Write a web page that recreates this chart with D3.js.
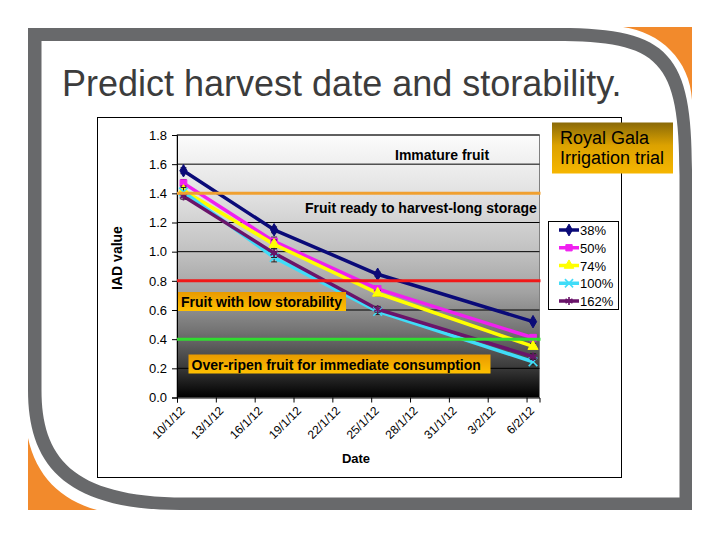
<!DOCTYPE html>
<html>
<head>
<meta charset="utf-8">
<script src="https://cdn.jsdelivr.net/npm/d3@7/dist/d3.min.js"></script>
<style>
  html, body { margin: 0; padding: 0; background: #ffffff; }
  svg { display: block; }
  text { font-family: "Liberation Sans", Arial, sans-serif; }
</style>
</head>
<body>
<svg id="chart" width="720" height="540"></svg>
<script>
// ---------------- data ----------------
const seriesNames = ["38%", "50%", "74%", "100%", "162%"];
const sampleDates = ["2012-01-10", "2012-01-17", "2012-01-25", "2012-02-06"];
const iad38  = [1.555, 1.150, 0.845, 0.520];
const iad50  = [1.470, 1.070, 0.745, 0.410];
const iad74  = [1.420, 1.050, 0.715, 0.350];
const iad100 = [1.410, 0.960, 0.590, 0.245];
const iad162 = [1.380, 0.990, 0.605, 0.280];
const err38  = [0.020, 0.020, 0.015, 0.010];
const err50  = [0.025, 0.030, 0.020, 0.015];
const err74  = [0.030, 0.030, 0.020, 0.020];
const err100 = [0.030, 0.030, 0.020, 0.020];
const err162 = [0.020, 0.030, 0.020, 0.020];
const yTickValues = [0, 0.2, 0.4, 0.6, 0.8, 1.0, 1.2, 1.4, 1.6, 1.8];
const xTickLabels = ["10/1/12", "13/1/12", "16/1/12", "19/1/12", "22/1/12",
                     "25/1/12", "28/1/12", "31/1/12", "3/2/12", "6/2/12"];
const thresholdValues = [1.4, 0.8, 0.4];
const zoneLabels = ["Immature fruit", "Fruit ready to harvest-long storage",
                    "Fruit with low storability", "Over-ripen fruit for immediate consumption"];
const titleText = "Predict harvest date and storability.";
const trialLines = ["Royal Gala", "Irrigation trial"];

// ---------------- styles ----------------
const seriesColors = ["#0a0a78", "#f020f0", "#ffff00", "#40dcf8", "#6a146a"];
const seriesSymbols = ["diamond", "square", "triangle", "times", "asterisk"];
const thresholdColors = ["#f0a030", "#f01818", "#30dc30"];

const svg = d3.select("#chart");
const defs = svg.append("defs");

// ---------------- frame ----------------
svg.append("path")
  .attr("d", "M623,27 L692,27 L692,100 C690,60 660,32 623,27 Z")
  .attr("fill", "#f28a2c");
svg.append("path")
  .attr("d", "M28,438 L28,510 L97,510 C60,500 36,475 28,438 Z")
  .attr("fill", "#f28a2c");
svg.append("path")
  .attr("fill", "#68696b")
  .attr("fill-rule", "evenodd")
  .attr("d",
    "M28,28 L560,28 C670,28 692,55 692,170 L692,510 L180,510 C60,510 28,460 28,390 Z " +
    "M41.5,41 L555,41 C660,41 679.5,60 679.5,175 L679.5,497.5 L185,497.5 C70,497.5 41.5,455 41.5,390 Z");

svg.append("text")
  .attr("x", 62).attr("y", 96)
  .attr("font-size", 36)
  .attr("fill", "#3c3c3c")
  .text(titleText);

// chart box
svg.append("rect")
  .attr("x", 97.5).attr("y", 117.5).attr("width", 524).attr("height", 360)
  .attr("fill", "#ffffff").attr("stroke", "#000").attr("stroke-width", 1);

// ---------------- scales ----------------
const parse = d3.timeParse("%Y-%m-%d");
const plot = { left: 177, right: 539.5, top: 135, bottom: 397.5 };
const x = d3.scaleTime()
  .domain([new Date(2012, 0, 10), new Date(2012, 1, 7)])
  .range([plot.left, plot.right]);
const y = d3.scaleLinear().domain([0, 1.8]).range([plot.bottom, plot.top]);

// plot background gradient
const grad = defs.append("linearGradient").attr("id", "plotbg")
  .attr("x1", 0).attr("y1", 0).attr("x2", 0).attr("y2", 1);
[[0, "#fcfcfc"], [0.25, "#dedede"], [0.45, "#c0c0c0"], [0.6, "#a2a2a2"],
 [0.75, "#727272"], [0.88, "#3c3c3c"], [1, "#000000"]]
  .forEach(s => grad.append("stop").attr("offset", s[0]).attr("stop-color", s[1]));

const boxGrad = defs.append("linearGradient").attr("id", "boxbg")
  .attr("x1", 0).attr("y1", 0).attr("x2", 0).attr("y2", 1);
[[0, "#e89a00"], [1, "#ffc000"]]
  .forEach(s => boxGrad.append("stop").attr("offset", s[0]).attr("stop-color", s[1]));

const trialGrad = defs.append("linearGradient").attr("id", "trialbg")
  .attr("x1", 0).attr("y1", 0).attr("x2", 0).attr("y2", 1);
[[0, "#8a6a08"], [0.45, "#dca200"], [1, "#f6b600"]]
  .forEach(s => trialGrad.append("stop").attr("offset", s[0]).attr("stop-color", s[1]));

svg.append("rect")
  .attr("x", plot.left).attr("y", plot.top)
  .attr("width", plot.right - plot.left).attr("height", plot.bottom - plot.top)
  .attr("fill", "url(#plotbg)").attr("stroke", "#808080").attr("stroke-width", 1);

// gridlines
svg.append("g").selectAll("line")
  .data(yTickValues.filter(v => v > 0))
  .join("line")
  .attr("x1", plot.left).attr("x2", plot.right)
  .attr("y1", d => y(d)).attr("y2", d => y(d))
  .attr("stroke", "#000").attr("stroke-width", 1);

// axes
const tickDates = xTickLabels.map((_, i) => d3.timeDay.offset(new Date(2012, 0, 10), 3 * i));
const xAxis = svg.append("g")
  .attr("transform", `translate(0,${plot.bottom})`)
  .call(d3.axisBottom(x).tickValues(tickDates).tickSize(5)
    .tickFormat((d, i) => xTickLabels[i]));
xAxis.select(".domain").attr("stroke", "#000");
xAxis.selectAll("text")
  .attr("font-size", 12)
  .attr("font-family", "Liberation Sans, Arial, sans-serif")
  .attr("fill", "#000")
  .attr("text-anchor", "end")
  .attr("dy", null).attr("y", null)
  .attr("transform", "translate(8,14) rotate(-45)");

const yAxis = svg.append("g")
  .attr("transform", `translate(${plot.left},0)`)
  .call(d3.axisLeft(y).tickValues(yTickValues).tickSize(5).tickFormat(d3.format(".1f")));
yAxis.select(".domain").attr("stroke", "#000");
yAxis.selectAll("text")
  .attr("font-size", 13)
  .attr("font-family", "Liberation Sans, Arial, sans-serif")
  .attr("fill", "#000")
  .attr("x", -10);

svg.append("text")
  .attr("transform", "translate(122,258) rotate(-90)")
  .attr("text-anchor", "middle")
  .attr("font-size", 14).attr("font-weight", "bold")
  .text("IAD value");
svg.append("text")
  .attr("x", 356).attr("y", 463)
  .attr("text-anchor", "middle")
  .attr("font-size", 13).attr("font-weight", "bold")
  .text("Date");

// ---------------- series ----------------
const allValues = [iad38, iad50, iad74, iad100, iad162];
const allErrors = [err38, err50, err74, err100, err162];
const series = seriesNames.map((name, k) => ({
  name,
  color: seriesColors[k],
  symbol: seriesSymbols[k],
  points: sampleDates.map((ds, i) => ({
    date: d3.timeHour.offset(parse(ds), 12),
    v: allValues[k][i],
    e: allErrors[k][i]
  }))
}));

function symbolPath(kind, size) {
  const map = {
    diamond: d3.symbolDiamond,
    square: d3.symbolSquare,
    triangle: d3.symbolTriangle,
    times: d3.symbolTimes || d3.symbolCross,
    asterisk: d3.symbolAsterisk || d3.symbolCross
  };
  return d3.symbol().type(map[kind]).size(size)();
}
const strokeSymbols = { times: true, asterisk: true };

const line = d3.line().x(d => x(d.date)).y(d => y(d.v));
const gSeries = svg.append("g");
series.forEach(s => {
  gSeries.append("path")
    .datum(s.points)
    .attr("d", line)
    .attr("fill", "none")
    .attr("stroke", s.color)
    .attr("stroke-width", 3.5)
    .attr("stroke-linejoin", "round");
});
series.forEach(s => {
  const g = gSeries.append("g");
  // error bars
  g.selectAll("path.err").data(s.points).join("path")
    .attr("class", "err")
    .attr("d", d => {
      const cx = x(d.date), y1 = y(d.v + d.e), y2 = y(d.v - d.e);
      return `M${cx - 3},${y1}H${cx + 3}M${cx},${y1}V${y2}M${cx - 3},${y2}H${cx + 3}`;
    })
    .attr("stroke", "#202020").attr("stroke-width", 1).attr("fill", "none");
  g.selectAll("path.mk").data(s.points).join("path")
    .attr("class", "mk")
    .attr("transform", d => `translate(${x(d.date)},${y(d.v)})`)
    .attr("d", symbolPath(s.symbol, strokeSymbols[s.symbol] ? 50 : 45))
    .attr("fill", strokeSymbols[s.symbol] ? "none" : s.color)
    .attr("stroke", s.color)
    .attr("stroke-width", strokeSymbols[s.symbol] ? 1.6 : 1);
});

// threshold lines
svg.append("g").selectAll("line")
  .data(thresholdValues)
  .join("line")
  .attr("x1", plot.left).attr("x2", plot.right + 1)
  .attr("y1", d => y(d)).attr("y2", d => y(d))
  .attr("stroke", (d, i) => thresholdColors[i])
  .attr("stroke-width", 3);

// zone labels
svg.append("text").attr("x", 395).attr("y", 160)
  .attr("font-size", 14).attr("font-weight", "bold").text(zoneLabels[0]);
svg.append("text").attr("x", 305).attr("y", 213)
  .attr("font-size", 14).attr("font-weight", "bold").text(zoneLabels[1]);

svg.append("rect").attr("x", 178).attr("y", 292).attr("width", 168).attr("height", 19)
  .attr("fill", "url(#boxbg)");
svg.append("text").attr("x", 181).attr("y", 307)
  .attr("font-size", 14).attr("font-weight", "bold").text(zoneLabels[2]);

svg.append("rect").attr("x", 188.5).attr("y", 354.5).attr("width", 302).attr("height", 19)
  .attr("fill", "url(#boxbg)");
svg.append("text").attr("x", 191.5).attr("y", 369.5)
  .attr("font-size", 14).attr("font-weight", "bold").text(zoneLabels[3]);

// ---------------- legend ----------------
const legend = svg.append("g");
legend.append("rect")
  .attr("x", 548.5).attr("y", 221.5).attr("width", 70).attr("height", 88)
  .attr("fill", "#ffffff").attr("stroke", "#000").attr("stroke-width", 1);
series.forEach((s, i) => {
  const cy = 230 + i * 17.75;
  legend.append("line")
    .attr("x1", 559).attr("x2", 579).attr("y1", cy).attr("y2", cy)
    .attr("stroke", s.color).attr("stroke-width", 3.5);
  legend.append("path")
    .attr("transform", `translate(569,${cy})`)
    .attr("d", symbolPath(s.symbol, strokeSymbols[s.symbol] ? 45 : 40))
    .attr("fill", strokeSymbols[s.symbol] ? "none" : s.color)
    .attr("stroke", s.color)
    .attr("stroke-width", strokeSymbols[s.symbol] ? 1.6 : 1);
  legend.append("text")
    .attr("x", 580).attr("y", cy + 5)
    .attr("font-size", 13).text(s.name);
});

// ---------------- trial box ----------------
svg.append("rect")
  .attr("x", 552).attr("y", 122.5).attr("width", 121).attr("height", 51)
  .attr("fill", "url(#trialbg)");
trialLines.forEach((t, i) => {
  svg.append("text")
    .attr("x", 560).attr("y", 143.5 + i * 20.5)
    .attr("font-size", 18).attr("fill", "#000").text(t);
});
</script>
</body>
</html>
